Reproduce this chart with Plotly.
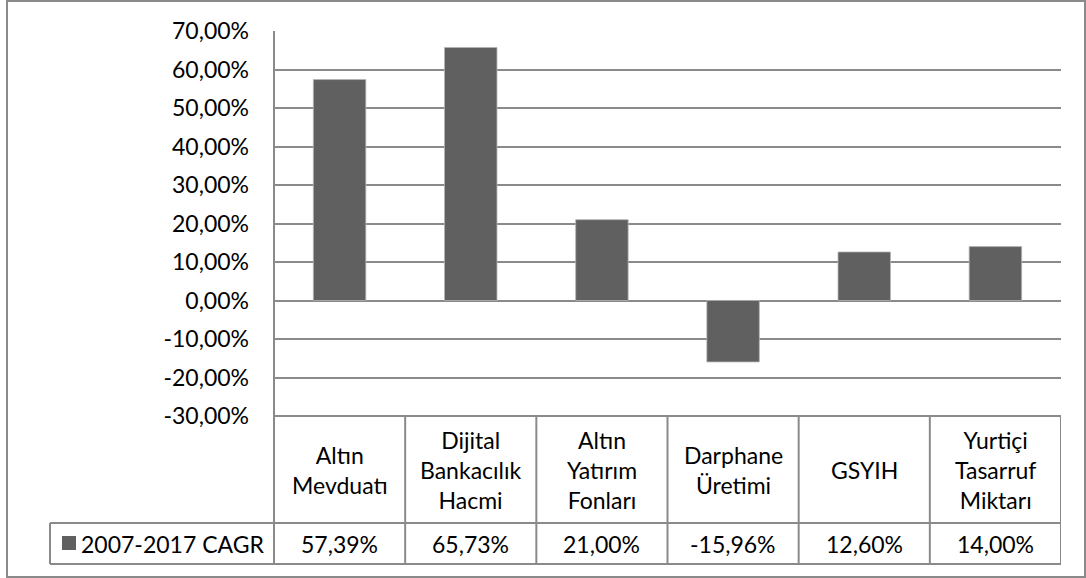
import plotly.graph_objects as go

# --- data ---------------------------------------------------------------
categories = [
    "Altın<br>Mevduatı",
    "Dijital<br>Bankacılık<br>Hacmi",
    "Altın<br>Yatırım<br>Fonları",
    "Darphane<br>Üretimi",
    "GSYIH",
    "Yurtiçi<br>Tasarruf<br>Miktarı",
]
cagr_values = [57.39, 65.73, 21.00, -15.96, 12.60, 14.00]  # percent
series_name = "2007-2017 CAGR"
y_ticks = [-30, -20, -10, 0, 10, 20, 30, 40, 50, 60, 70]


def pct(v):
    """Turkish-style percent label: 57,39%"""
    return f"{v:.2f}".replace(".", ",") + "%"


y_tick_labels = [pct(t) for t in y_ticks]

# --- geometry (pixels) ----------------------------------------------------
W, H = 1086, 578
PL, PR, PT, PB = 274, 1061, 31, 416          # plot area
ROW1_BOT, ROW2_BOT = 523, 564                # data-table rows
LEG_LEFT = 50

GRID = "#8a8a8a"
BAR = "#606060"
FONT = dict(family="Lato, 'Open Sans', sans-serif", size=23, color="#000000")


def py(p):
    """pixel row -> paper y"""
    return (PB - p) / (PB - PT)


def pxx(p):
    """pixel column -> paper x"""
    return (p - PL) / (PR - PL)


xs = list(range(len(categories)))

fig = go.Figure(
    go.Bar(
        x=xs,
        y=cagr_values,
        width=0.4,
        marker=dict(color=BAR, line=dict(color="#b4b4b4", width=0.8)),
        name=series_name,
        showlegend=False,
    )
)

shapes = []
annotations = []

# outer chart border
shapes.append(dict(type="rect", xref="paper", yref="paper",
                   x0=pxx(7), x1=pxx(1085), y0=py(577), y1=py(1),
                   line=dict(color=GRID, width=2), layer="below"))

# data table horizontal rules
for y_pix, x_left in [(PB, PL), (ROW1_BOT, LEG_LEFT), (ROW2_BOT, LEG_LEFT)]:
    shapes.append(dict(type="line", xref="paper", yref="paper",
                       x0=pxx(x_left), x1=pxx(PR), y0=py(y_pix), y1=py(y_pix),
                       line=dict(color=GRID, width=2)))

# left axis line continuing through the table
shapes.append(dict(type="line", xref="paper", yref="paper",
                   x0=0, x1=0, y0=py(ROW2_BOT), y1=1,
                   line=dict(color=GRID, width=2)))
# legend cell left edge
shapes.append(dict(type="line", xref="paper", yref="paper",
                   x0=pxx(LEG_LEFT), x1=pxx(LEG_LEFT),
                   y0=py(ROW2_BOT), y1=py(ROW1_BOT),
                   line=dict(color=GRID, width=2)))
# column separators of the table, on category boundaries
for i in xs:
    shapes.append(dict(type="line", xref="x", yref="paper",
                       x0=i + 0.5, x1=i + 0.5, y0=py(ROW2_BOT), y1=py(PB),
                       line=dict(color=GRID, width=2)))

# category names and values in the table
for i, (cat, v) in enumerate(zip(categories, cagr_values)):
    annotations.append(dict(x=i, y=py((PB + ROW1_BOT) / 2), xref="x", yref="paper",
                            text=cat, showarrow=False, font=FONT,
                            xanchor="center", yanchor="middle"))
    annotations.append(dict(x=i, y=py((ROW1_BOT + ROW2_BOT) / 2), xref="x", yref="paper",
                            text=pct(v), showarrow=False, font=FONT,
                            xanchor="center", yanchor="middle"))

# legend key in the table
shapes.append(dict(type="rect", xref="paper", yref="paper",
                   x0=pxx(62), x1=pxx(76), y0=py(550), y1=py(536),
                   fillcolor=BAR, line=dict(width=0)))
annotations.append(dict(x=pxx(79), y=py((ROW1_BOT + ROW2_BOT) / 2),
                        xref="paper", yref="paper", text=series_name,
                        showarrow=False, font=FONT,
                        xanchor="left", yanchor="middle"))

fig.update_layout(
    width=W, height=H,
    margin=dict(l=PL, r=W - PR, t=PT, b=H - PB),
    paper_bgcolor="white", plot_bgcolor="white",
    font=FONT,
    shapes=shapes,
    annotations=annotations,
    xaxis=dict(range=[-0.5, 5.5], showticklabels=False, showgrid=False,
               zeroline=False, ticks="", fixedrange=True),
    yaxis=dict(range=[-30, 70], tickmode="array", tickvals=y_ticks,
               ticktext=y_tick_labels,
               showgrid=True, gridcolor=GRID, gridwidth=2,
               zeroline=True, zerolinecolor=GRID, zerolinewidth=2,
               showline=False, ticks="", ticklabelstandoff=24,
               tickfont=FONT, fixedrange=True),
)

fig.write_html("out.html")
